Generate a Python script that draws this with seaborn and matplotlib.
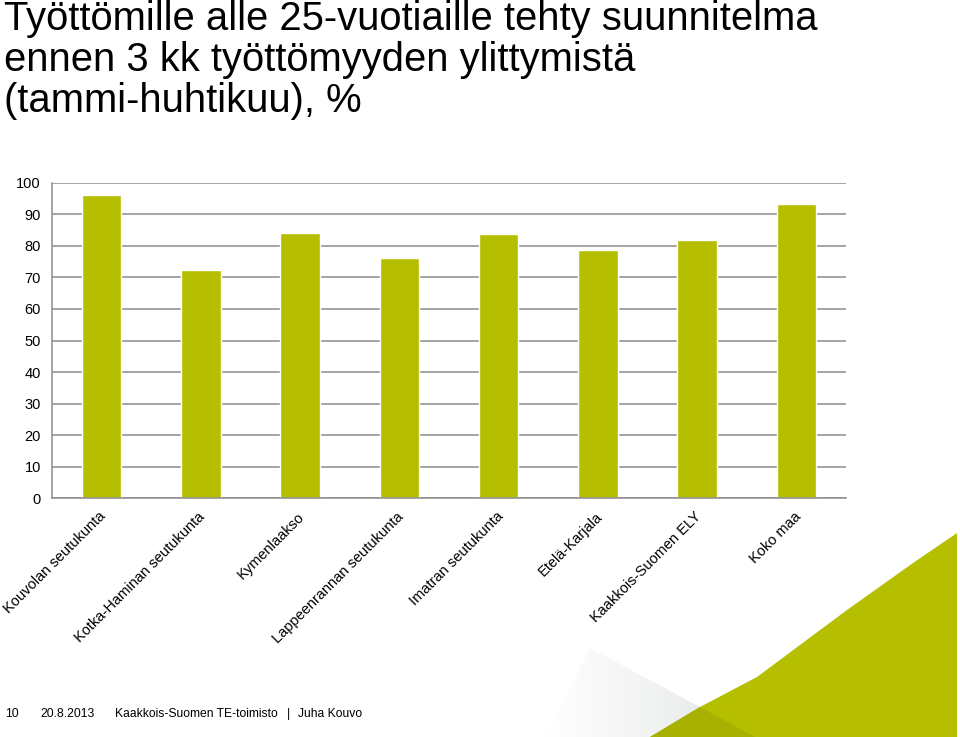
import numpy as np
import matplotlib
matplotlib.use('Agg')
import matplotlib.pyplot as plt
from matplotlib.patches import Polygon
from matplotlib.colors import LinearSegmentedColormap
from matplotlib.transforms import ScaledTranslation
import seaborn as sns

# Data
regions = ['Kouvolan seutukunta', 'Kotka-Haminan seutukunta', 'Kymenlaakso',
           'Lappeenrannan seutukunta', 'Imatran seutukunta', 'Etelä-Karjala',
           'Kaakkois-Suomen ELY', 'Koko maa']
values = [96.2, 72.4, 84.0, 76.2, 83.7, 78.7, 81.8, 93.2]
y_ticks = list(range(0, 101, 10))

title_lines = ['Työttömille alle 25-vuotiaille tehty suunnitelma',
               'ennen 3 kk työttömyyden ylittymistä',
               '(tammi-huhtikuu), %']

bar_color = '#b5bf00'
grid_color = '#8c8c8c'

sns.set_style('white')
plt.rcParams['font.family'] = ['Liberation Sans', 'DejaVu Sans']

W, H = 960, 737
fig = plt.figure(figsize=(W / 100, H / 100), dpi=100)

# Decorative swoosh in the lower right corner (figure pixel coords)
deco = fig.add_axes([0, 0, 1, 1], zorder=0)
deco.set_xlim(0, W)
deco.set_ylim(H, 0)
deco.axis('off')

# light grey shadow with a gradient
shade = LinearSegmentedColormap.from_list('shade', ['#ffffff', '#f2f3f3', '#e1e3e4'])
grad = np.linspace(0, 1, 256).reshape(1, -1)
shadow = Polygon([(545, 737), (590, 648), (700, 707), (755, 737)], closed=True,
                 facecolor='none', edgecolor='none')
deco.add_patch(shadow)
im = deco.imshow(grad, extent=[545, 755, 737, 648], cmap=shade,
                 aspect='auto', zorder=1)
im.set_clip_path(shadow)

swoosh = Polygon([(650, 737), (700, 707), (757, 677), (847, 610), (913, 563),
                  (957, 533), (957, 737)], closed=True,
                 facecolor=bar_color, edgecolor='none', zorder=2)
deco.add_patch(swoosh)
dark = Polygon([(650, 737), (700, 707), (755, 737)], closed=True,
               facecolor='#a9b100', edgecolor='none', zorder=3)
deco.add_patch(dark)

# Main chart
ax = fig.add_axes([52 / W, 1 - 498.3 / H, (846 - 52) / W, (498.3 - 182.7) / H], zorder=2)
ax.patch.set_alpha(0)
sns.barplot(x=regions, y=values, color=bar_color, saturation=1, width=0.4, ax=ax)

ax.set_ylim(0, 100)
ax.set_xlim(-0.5, len(regions) - 0.5)
ax.set_yticks(y_ticks)
ax.yaxis.grid(True, color=grid_color, linewidth=1.1)
ax.set_axisbelow(True)
ax.set_xlabel('')
ax.set_ylabel('')

for side in ['top', 'right']:
    ax.spines[side].set_visible(False)
for side in ['left', 'bottom']:
    ax.spines[side].set_color(grid_color)
    ax.spines[side].set_linewidth(1.1)

ax.tick_params(axis='y', which='major', length=4, color=grid_color, labelsize=10.5,
               pad=4, labelcolor='black')
ax.tick_params(axis='x', which='major', length=0, labelsize=10.5, pad=8, labelcolor='black')
ax.set_xticks(np.arange(-0.5, len(regions), 1.0), minor=True)
ax.tick_params(axis='x', which='minor', length=4, color=grid_color, direction='out')

ax.set_xticks(range(len(regions)))
ax.set_xticklabels(regions, rotation=45, ha='right', va='top', rotation_mode='anchor')
shift = ScaledTranslation(-2 / 72, 0, fig.dpi_scale_trans)
for lbl in ax.get_xticklabels():
    lbl.set_transform(lbl.get_transform() + shift)

# Title
for i, line in enumerate(title_lines):
    fig.text(4 / W, 1 - (30.5 + 40.5 * i) / H, line, fontsize=28.8,
             ha='left', va='baseline', color='black')

# Footer
footer = [(5, '10'), (40, '20.8.2013'), (115, 'Kaakkois-Suomen TE-toimisto'),
          (287, '|'), (298, 'Juha Kouvo')]
for x, txt in footer:
    fig.text(x / W, 1 - 717 / H, txt, fontsize=8.7, ha='left', va='baseline', color='black')

fig.savefig('out.png', dpi=100)
